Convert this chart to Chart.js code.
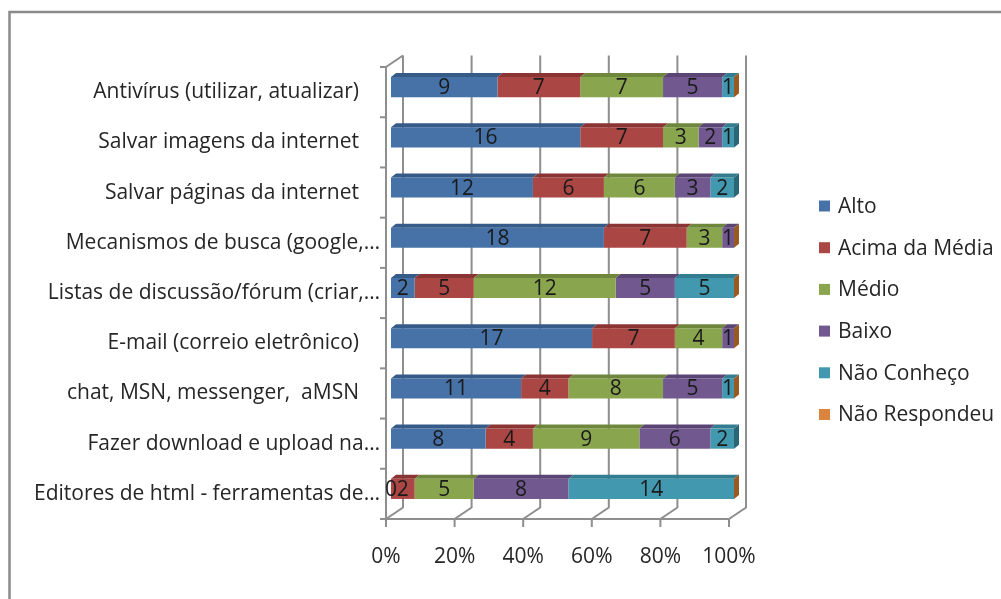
<!DOCTYPE html>
<html lang="pt">
<head>
  <meta charset="UTF-8">
  <title>Conhecimento em ferramentas da internet</title>
  <script src="https://cdn.jsdelivr.net/npm/chart.js"></script>
  <style>
    body { margin: 0; background: #fff; }
    canvas { display: block; }
  </style>
</head>
<body>
  <canvas id="chart" width="1001" height="599"></canvas>

  <script>
    // Respostas por item (contagens)
    const categories = [
      'Antivírus (utilizar, atualizar)',
      'Salvar imagens da internet',
      'Salvar páginas da internet',
      'Mecanismos de busca (google,…',
      'Listas de discussão/fórum (criar,…',
      'E-mail (correio eletrônico)',
      'chat, MSN, messenger,  aMSN',
      'Fazer download e upload na…',
      'Editores de html - ferramentas de…'
    ];
    const seriesNames = ['Alto', 'Acima da Média', 'Médio', 'Baixo', 'Não Conheço', 'Não Respondeu'];
    const alto         = [9, 16, 12, 18, 2, 17, 11, 8, 0];
    const acimaDaMedia = [7, 7, 6, 7, 5, 7, 4, 4, 2];
    const medio        = [7, 3, 6, 3, 12, 4, 8, 9, 5];
    const baixo        = [5, 2, 3, 1, 5, 1, 5, 6, 8];
    const naoConheco   = [1, 1, 2, null, 5, null, 1, 2, 14];
    const naoRespondeu = [0, null, null, 0, 0, 0, 0, null, 0];
    const xTickLabels  = ['0%', '20%', '40%', '60%', '80%', '100%'];

    const series = [alto, acimaDaMedia, medio, baixo, naoConheco, naoRespondeu];
    const showValues = [true, true, true, true, true, false];

    // front, top and side faces of each series
    const frontColors = ['#4672A8', '#AA4643', '#89A54E', '#71588F', '#4198AF', '#DB843D'];
    const topColors   = ['#365B88', '#8A3533', '#6F873D', '#5A4574', '#327D90', '#B86A2C'];
    const sideColors  = ['#2E4E75', '#76302E', '#5E7433', '#4B3A62', '#2A6676', '#9A5A22'];

    const FONT = '"Open Sans", Lato, sans-serif';
    const SIZE = 21;
    const TEXT = '#262626';

    // 3D look: depth of the walls, position and thickness of the bars inside it
    const WALL_DX = 17, WALL_DY = -11.5;
    const BAR_DX = 5, BAR_DY = -5;
    const SLAB_DX = 5, SLAB_DY = -4;

    const rowTotals = categories.map((_, i) =>
      series.reduce((s, arr) => s + (arr[i] ?? 0), 0));

    const datasets = series.map((arr, k) => ({
      label: seriesNames[k],
      data: arr.map((v, i) => v === null ? null : v / rowTotals[i] * 100),
      backgroundColor: frontColors[k],
      borderWidth: 0,
      barPercentage: 0.4,
      categoryPercentage: 1
    }));

    function poly(ctx, pts, color) {
      ctx.fillStyle = color;
      ctx.beginPath();
      ctx.moveTo(pts[0][0], pts[0][1]);
      for (let i = 1; i < pts.length; i++) ctx.lineTo(pts[i][0], pts[i][1]);
      ctx.closePath();
      ctx.fill();
    }

    // frame, back wall gridlines, floor and left wall
    const walls = {
      id: 'walls',
      beforeDraw(chart) {
        const { ctx, chartArea: a, scales: { x, y } } = chart;
        ctx.save();
        ctx.strokeStyle = '#8a8a8a';
        ctx.lineWidth = 2.5;
        ctx.beginPath();
        ctx.moveTo(9.5, chart.height);
        ctx.lineTo(9.5, 12);
        ctx.lineTo(chart.width, 12);
        ctx.stroke();

        ctx.strokeStyle = '#8e8e8e';
        ctx.lineWidth = 2;
        x.ticks.forEach(t => {
          const px = x.getPixelForValue(t.value);
          ctx.beginPath();
          ctx.moveTo(px, a.bottom + 8);
          ctx.lineTo(px, a.bottom);
          ctx.lineTo(px + WALL_DX, a.bottom + WALL_DY);
          ctx.lineTo(px + WALL_DX, a.top + WALL_DY);
          ctx.stroke();
        });
        ctx.beginPath();
        ctx.moveTo(a.right, a.bottom);
        ctx.lineTo(a.left, a.bottom);
        ctx.lineTo(a.left, a.top);
        ctx.lineTo(a.left + WALL_DX, a.top + WALL_DY);
        ctx.stroke();

        const n = categories.length;
        for (let i = 0; i <= n; i++) {
          const py = y.getPixelForDecimal(i / n);
          ctx.beginPath();
          ctx.moveTo(a.left - 6, py);
          ctx.lineTo(a.left, py);
          ctx.stroke();
        }
        ctx.restore();
      }
    };

    // shifts the bars into the depth and adds their top and end faces + values
    const slabs = {
      id: 'slabs',
      beforeDatasetsDraw(chart) {
        chart.ctx.save();
        chart.ctx.translate(BAR_DX, BAR_DY);
      },
      afterDatasetsDraw(chart) {
        const ctx = chart.ctx;
        const metas = chart.data.datasets.map((_, k) => chart.getDatasetMeta(k));

        metas.forEach((meta, k) => {
          meta.data.forEach((bar, i) => {
            if (series[k][i] === null) return;
            const { x, base, y, height } = bar.getProps(['x', 'base', 'y', 'height'], true);
            const l = Math.min(x, base), r = Math.max(x, base), t = y - height / 2;
            if (r - l < 0.5) return;
            poly(ctx, [[l, t], [l + SLAB_DX, t + SLAB_DY], [r + SLAB_DX, t + SLAB_DY], [r, t]], topColors[k]);
          });
        });

        categories.forEach((_, i) => {
          let last = -1;
          series.forEach((arr, k) => { if (arr[i] !== null) last = k; });
          const { x, y, height } = metas[last].data[i].getProps(['x', 'y', 'height'], true);
          const t = y - height / 2, b = y + height / 2;
          poly(ctx, [[x, t], [x + SLAB_DX, t + SLAB_DY], [x + SLAB_DX, b + SLAB_DY], [x, b]], sideColors[last]);
        });

        ctx.font = SIZE + 'px ' + FONT;
        ctx.fillStyle = '#1a1a1a';
        ctx.textAlign = 'center';
        ctx.textBaseline = 'middle';
        metas.forEach((meta, k) => {
          if (!showValues[k]) return;
          meta.data.forEach((bar, i) => {
            const v = series[k][i];
            if (v === null) return;
            const { x, base, y } = bar.getProps(['x', 'base', 'y'], true);
            ctx.fillText(String(v), (x + base) / 2, y + 1);
          });
        });
        ctx.restore();
      }
    };

    // legend on the right
    const sideLegend = {
      id: 'sideLegend',
      afterDraw(chart) {
        const ctx = chart.ctx;
        ctx.save();
        ctx.font = SIZE + 'px ' + FONT;
        ctx.textAlign = 'left';
        ctx.textBaseline = 'middle';
        chart.data.datasets.forEach((ds, k) => {
          const cy = 206 + k * 41.7;
          ctx.fillStyle = ds.backgroundColor;
          ctx.fillRect(819, cy - 5.5, 11, 11);
          ctx.fillStyle = TEXT;
          ctx.fillText(ds.label, 838, cy + 1);
        });
        ctx.restore();
      }
    };

    function draw() {
      new Chart(document.getElementById('chart'), {
        type: 'bar',
        data: { labels: categories, datasets },
        options: {
          indexAxis: 'y',
          responsive: false,
          animation: false,
          layout: { padding: { top: 67, right: 272, bottom: 0, left: 0 } },
          plugins: { legend: { display: false }, tooltip: { enabled: false } },
          scales: {
            x: {
              stacked: true,
              min: 0,
              max: 100,
              border: { display: false },
              grid: { display: false, drawTicks: false },
              ticks: {
                stepSize: 20,
                padding: 25,
                color: TEXT,
                font: { family: FONT, size: SIZE },
                callback: (v, i) => xTickLabels[i]
              },
              afterFit: s => { s.height = 80; }
            },
            y: {
              stacked: true,
              border: { display: false },
              grid: { display: false, drawTicks: false },
              ticks: {
                padding: 6,
                autoSkip: false,
                color: TEXT,
                font: { family: FONT, size: SIZE },
                // full labels sit a little left of the cut ones
                callback: (v, i) => categories[i].endsWith('…') ? categories[i] : categories[i] + '\u2003'
              },
              afterFit: s => { s.width = 386; }
            }
          }
        },
        plugins: [walls, slabs, sideLegend]
      });
    }

    document.fonts.load(SIZE + 'px "Open Sans"').then(draw, draw);
  </script>
</body>
</html>
